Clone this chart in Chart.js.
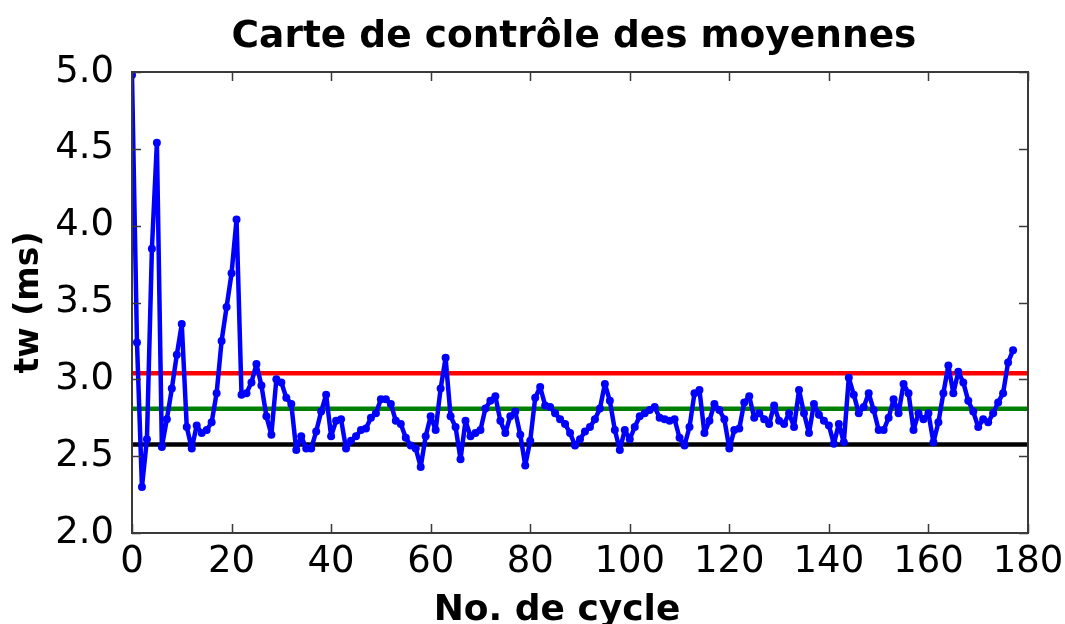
<!DOCTYPE html>
<html>
<head>
<meta charset="utf-8">
<script src="https://cdn.jsdelivr.net/npm/chart.js@4/dist/chart.umd.min.js"></script>
<style>
  html, body { margin: 0; padding: 0; background: #fff; }
  #wrap { width: 1065px; height: 624px; }
</style>
</head>
<body>
<div id="wrap"><canvas id="c" width="1065" height="624"></canvas></div>
<script>
// Mean of each cycle (tw, ms)
const cycleMeans = [
  4.98, 3.24, 2.30, 2.61, 3.85, 4.54, 2.56, 2.74, 2.94, 3.16,
  3.36, 2.69, 2.55, 2.70, 2.65, 2.67, 2.72, 2.91, 3.25, 3.47,
  3.69, 4.04, 2.90, 2.91, 2.98, 3.10, 2.96, 2.76, 2.64, 3.00,
  2.98, 2.88, 2.84, 2.54, 2.63, 2.55, 2.55, 2.66, 2.79, 2.90,
  2.63, 2.73, 2.74, 2.55, 2.60, 2.63, 2.67, 2.68, 2.75, 2.78,
  2.87, 2.87, 2.84, 2.73, 2.71, 2.62, 2.57, 2.55, 2.43, 2.63,
  2.76, 2.67, 2.94, 3.14, 2.76, 2.69, 2.48, 2.73, 2.63, 2.65,
  2.67, 2.81, 2.86, 2.89, 2.73, 2.65, 2.76, 2.79, 2.64, 2.44,
  2.60, 2.88, 2.95, 2.83, 2.82, 2.78, 2.74, 2.71, 2.65, 2.57,
  2.61, 2.66, 2.69, 2.74, 2.81, 2.97, 2.86, 2.67, 2.54, 2.67,
  2.61, 2.69, 2.76, 2.78, 2.80, 2.82, 2.75, 2.74, 2.73, 2.74,
  2.62, 2.57, 2.69, 2.91, 2.93, 2.65, 2.73, 2.84, 2.80, 2.74,
  2.55, 2.67, 2.68, 2.85, 2.89, 2.75, 2.78, 2.74, 2.71, 2.83,
  2.73, 2.71, 2.78, 2.69, 2.93, 2.78, 2.65, 2.84, 2.77, 2.73,
  2.70, 2.58, 2.71, 2.59, 3.01, 2.90, 2.78, 2.82, 2.91, 2.80,
  2.67, 2.67, 2.75, 2.87, 2.78, 2.97, 2.91, 2.67, 2.78, 2.74,
  2.78, 2.59, 2.72, 2.91, 3.09, 2.91, 3.05, 2.98, 2.86, 2.79,
  2.69, 2.74, 2.72, 2.78, 2.85, 2.91, 3.11, 3.19
];

// Control limits
const upperLimit = 3.04;
const centerLine = 2.808;
const lowerLimit = 2.576;

// Axis ranges and ticks
const xRange = [0, 180];
const yRange = [2.0, 5.0];
const xTickStep = 20;
const yTickStep = 0.5;

// Texts
const chartTitle = 'Carte de contrôle des moyennes';
const xAxisTitle = 'No. de cycle';
const yAxisTitle = 'tw (ms)';

const meanPoints = cycleMeans.map((v, i) => ({ x: i, y: v }));
const hLine = v => [{ x: xRange[0], y: v }, { x: xRange[1], y: v }];

const FONT = 'DejaVu Sans';

// Inward tick marks on all four sides plus the axes frame
const frameTicks = {
  id: 'frameTicks',
  afterDatasetsDraw(chart) {
    const { ctx, chartArea: a, scales: { x, y } } = chart;
    const len = 9;
    ctx.save();
    ctx.strokeStyle = '#3a3a3a';
    ctx.lineWidth = 1.5;
    ctx.beginPath();
    x.ticks.forEach(t => {
      const px = Math.round(x.getPixelForValue(t.value)) + 0.5;
      ctx.moveTo(px, a.bottom); ctx.lineTo(px, a.bottom - len);
      ctx.moveTo(px, a.top); ctx.lineTo(px, a.top + len);
    });
    y.ticks.forEach(t => {
      const py = Math.round(y.getPixelForValue(t.value)) + 0.5;
      ctx.moveTo(a.left, py); ctx.lineTo(a.left + len, py);
      ctx.moveTo(a.right, py); ctx.lineTo(a.right - len, py);
    });
    ctx.stroke();
    ctx.lineWidth = 2;
    ctx.strokeRect(a.left, a.top, a.right - a.left, a.bottom - a.top);
    ctx.restore();
  }
};

// Chart title above the axes and the x-axis title below the tick labels
const headings = {
  id: 'headings',
  afterDraw(chart) {
    const { ctx, chartArea: a } = chart;
    const cx = (a.left + a.right) / 2;
    ctx.save();
    ctx.fillStyle = '#000';
    ctx.textAlign = 'center';
    ctx.textBaseline = 'alphabetic';
    ctx.font = 'bold 37.5px "' + FONT + '"';
    ctx.fillText(chartTitle, cx - 6, a.top - 25);
    ctx.font = 'bold 36px "' + FONT + '"';
    ctx.fillText(xAxisTitle, cx - 23, a.bottom + 87);
    ctx.restore();
  }
};

new Chart(document.getElementById('c'), {
  type: 'line',
  data: {
    datasets: [
      {
        data: meanPoints,
        borderColor: '#0000ff',
        backgroundColor: '#0000ff',
        borderWidth: 4.5,
        borderJoinStyle: 'round',
        borderCapStyle: 'round',
        pointRadius: 4,
        pointBorderWidth: 0,
        tension: 0,
        clip: 0
      },
      { data: hLine(upperLimit), borderColor: '#ff0000', borderWidth: 4.5, pointRadius: 0, clip: 0 },
      { data: hLine(centerLine), borderColor: '#008000', borderWidth: 4.5, pointRadius: 0, clip: 0 },
      { data: hLine(lowerLimit), borderColor: '#000000', borderWidth: 4.5, pointRadius: 0, clip: 0 }
    ]
  },
  options: {
    responsive: false,
    animation: false,
    events: [],
    layout: { padding: { left: 0, right: 37, top: 72, bottom: 0 } },
    plugins: {
      legend: { display: false },
      tooltip: { enabled: false },
      title: { display: false }
    },
    scales: {
      x: {
        type: 'linear',
        min: xRange[0],
        max: xRange[1],
        grid: { display: false },
        border: { display: false },
        ticks: {
          stepSize: xTickStep,
          color: '#000',
          padding: -1,
          maxRotation: 0,
          font: { family: FONT, size: 37 }
        },
        afterFit(scale) { scale.height = 91; }
      },
      y: {
        type: 'linear',
        min: yRange[0],
        max: yRange[1],
        grid: { display: false },
        border: { display: false },
        ticks: {
          stepSize: yTickStep,
          color: '#000',
          padding: 10,
          font: { family: FONT, size: 37 },
          callback: v => Number(v).toFixed(1)
        },
        title: {
          display: true,
          text: yAxisTitle,
          color: '#000',
          font: { family: FONT, size: 33, weight: 'bold' },
          padding: { top: 10, bottom: 0 }
        },
        afterFit(scale) { scale.width = 132; }
      }
    }
  },
  plugins: [frameTicks, headings]
});
</script>
</body>
</html>
